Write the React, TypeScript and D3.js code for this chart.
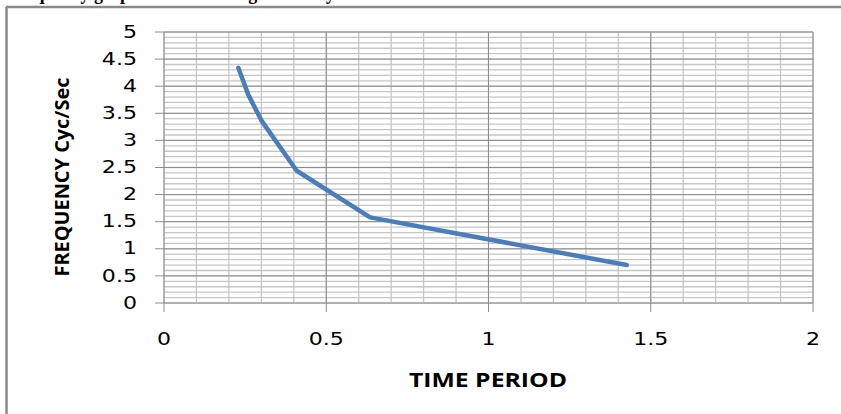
import React from "react";
import * as d3 from "d3";

// values
const timePeriod = [0.229, 0.26, 0.301, 0.409, 0.635, 1.426];
const frequency = [4.34, 3.84, 3.36, 2.44, 1.58, 0.7];
const xTicks = [0, 0.5, 1, 1.5, 2];
const yTicks = [0, 0.5, 1, 1.5, 2, 2.5, 3, 3.5, 4, 4.5, 5];
const xMinor = d3.range(0, 2.0001, 0.1);
const yMinor = d3.range(0, 5.0001, 0.1);

const W = 841, H = 414;
const margin = { top: 32, right: 28, bottom: 111, left: 164 };

const App: React.FC = () => {
  const x = d3.scaleLinear().domain([0, 2]).range([margin.left, W - margin.right]);
  const y = d3.scaleLinear().domain([0, 5]).range([H - margin.bottom, margin.top]);
  const line = d3.line<number>()
    .x((_, i) => x(timePeriod[i]))
    .y((d) => y(d));

  const tickFont = "'DejaVu Sans', Verdana, sans-serif";
  const boldFont = "'Open Sans', 'DejaVu Sans', sans-serif";

  return (
    <svg width={W} height={H} style={{ position: "fixed", left: 0, top: 0, background: "#fff" }}>
      {/* caption above the chart, cut off by the page edge as in the source */}
      <text x={8} y={-1} fontFamily="'Liberation Serif', serif" fontWeight="bold" fontSize={20}
        textLength={327} lengthAdjust="spacingAndGlyphs" fill="#000">
        Frequency graph with total weight of body
      </text>
      {/* chart frame */}
      <line x1={6.5} x2={6.5} y1={7} y2={H} stroke="#8a8a8a" strokeWidth={2.5} />
      <line x1={6} x2={W} y1={7} y2={7} stroke="#8a8a8a" strokeWidth={2.5} />

      {/* minor grid */}
      <g stroke="#c6c6c6" strokeWidth={1.3}>
        {xMinor.map((v) => (
          <line key={"xm" + v} x1={x(v)} x2={x(v)} y1={y(0)} y2={y(5)} />
        ))}
        {yMinor.map((v) => (
          <line key={"ym" + v} x1={x(0)} x2={x(2)} y1={y(v)} y2={y(v)} />
        ))}
      </g>
      {/* major grid */}
      <g stroke="#8c8c8c" strokeWidth={1}>
        {xTicks.map((v) => (
          <line key={"xM" + v} x1={x(v)} x2={x(v)} y1={y(0)} y2={y(5)} />
        ))}
        {yTicks.map((v) => (
          <line key={"yM" + v} x1={x(0)} x2={x(2)} y1={y(v)} y2={y(v)} />
        ))}
        {/* tick marks */}
        {yTicks.map((v) => (
          <line key={"yt" + v} x1={x(0) - 9} x2={x(0)} y1={y(v)} y2={y(v)} />
        ))}
        {xTicks.map((v) => (
          <line key={"xt" + v} x1={x(v)} x2={x(v)} y1={y(0)} y2={y(0) + 9} />
        ))}
      </g>

      {/* tick labels */}
      <g fontFamily={tickFont} fontSize={17} fill="#000">
        {yTicks.map((v) => (
          <text key={"yl" + v} transform={`translate(137,${y(v)}) scale(1.3,1)`}
            textAnchor="end" dominantBaseline="central">
            {String(v)}
          </text>
        ))}
        {xTicks.map((v) => (
          <text key={"xl" + v} transform={`translate(${x(v)},345) scale(1.3,1)`} textAnchor="middle">
            {String(v)}
          </text>
        ))}
      </g>

      {/* axis titles */}
      <text x={488} y={387} textAnchor="middle" fontFamily={boldFont} fontWeight="bold" fontSize={19}
        textLength={158} lengthAdjust="spacingAndGlyphs" fill="#000">
        TIME PERIOD
      </text>
      <text transform="translate(69,177) rotate(-90)" textAnchor="middle" fontFamily={boldFont}
        fontWeight="bold" fontSize={20} textLength={199} lengthAdjust="spacingAndGlyphs" fill="#000">
        FREQUENCY Cyc/Sec
      </text>

      {/* series */}
      <path d={line(frequency) || ""} fill="none" stroke="#4a7ebb" strokeWidth={4.5}
        strokeLinecap="round" strokeLinejoin="round" />
    </svg>
  );
};

export default App;
